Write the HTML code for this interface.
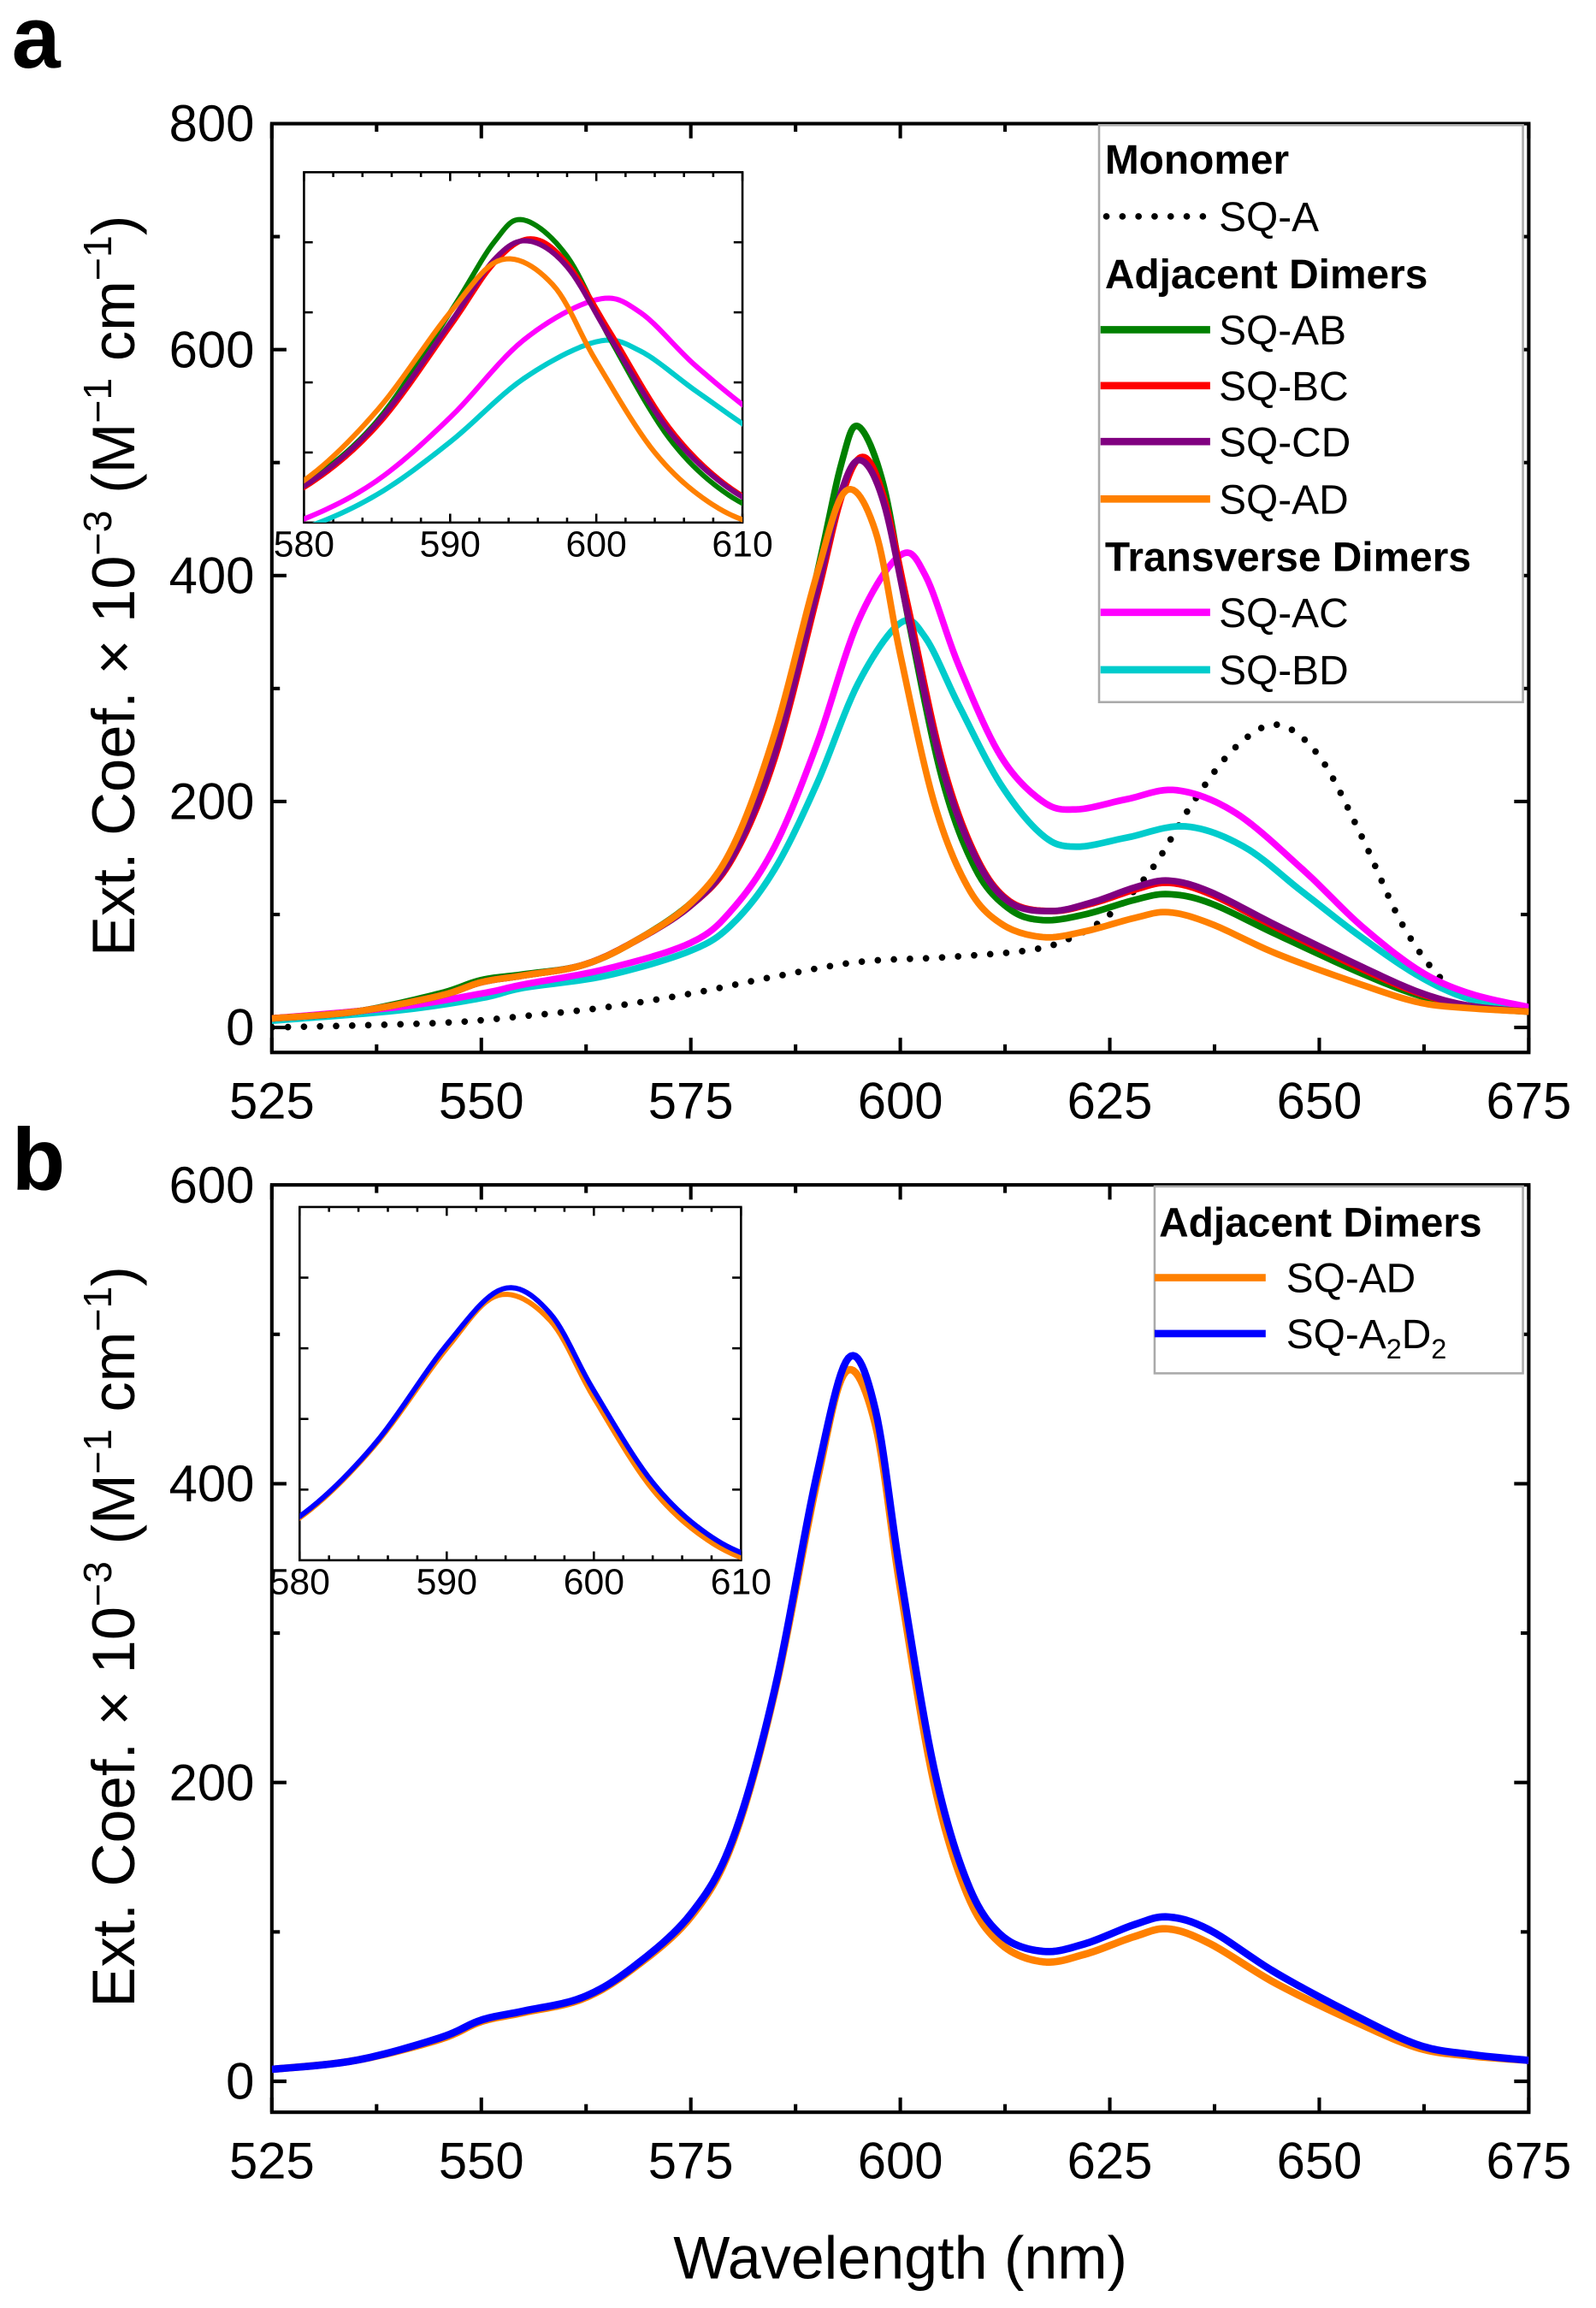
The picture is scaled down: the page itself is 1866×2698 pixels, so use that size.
<!DOCTYPE html>
<html><head><meta charset="utf-8">
<style>html,body{margin:0;padding:0;background:#fff}svg{display:block}
text{font-family:"Liberation Sans",Arial,sans-serif}</style></head>
<body>
<svg id="s" width="1866" height="2698" viewBox="0 0 1092 1568" preserveAspectRatio="none" xmlns="http://www.w3.org/2000/svg">
<defs>
<clipPath id="ca"><rect x="186" y="84" width="860" height="631"/></clipPath>
<clipPath id="cb"><rect x="186" y="805" width="860" height="630"/></clipPath>
<clipPath id="cia"><rect x="208" y="117" width="300" height="238"/></clipPath>
<clipPath id="cib"><rect x="205" y="820" width="302" height="240"/></clipPath>
</defs>
<g id="g"></g>
<text x="8" y="46" font-size="60" font-weight="bold">a</text>
<text x="8" y="808" font-size="60" font-weight="bold">b</text>
<text transform="translate(92,398) rotate(-90)" font-size="41" text-anchor="middle">Ext. Coef. × 10<tspan dy="-16" font-size="27">−3</tspan><tspan dy="16"> (M</tspan><tspan dy="-16" font-size="27">−1</tspan><tspan dy="16"> cm</tspan><tspan dy="-16" font-size="27">−1</tspan><tspan dy="16">)</tspan></text>
<text transform="translate(92,1112) rotate(-90)" font-size="41" text-anchor="middle">Ext. Coef. × 10<tspan dy="-16" font-size="27">−3</tspan><tspan dy="16"> (M</tspan><tspan dy="-16" font-size="27">−1</tspan><tspan dy="16"> cm</tspan><tspan dy="-16" font-size="27">−1</tspan><tspan dy="16">)</tspan></text>
<text x="616" y="1548" font-size="41" text-anchor="middle">Wavelength (nm)</text>
</svg>
<script>
var NS="http://www.w3.org/2000/svg",G=document.getElementById('g');
function el(t,a,p){var e=document.createElementNS(NS,t);for(var k in a)e.setAttribute(k,a[k]);(p||G).appendChild(e);return e;}
function txt(x,y,s,sz,anc,bold){var e=el('text',{x:x,y:y,'font-size':sz,'text-anchor':anc||'start'});if(bold)e.setAttribute('font-weight','bold');e.textContent=s;return e;}
function spline(pts,N){var out=[];for(var i=0;i<pts.length-1;i++){var p0=pts[Math.max(0,i-1)],p1=pts[i],p2=pts[i+1],p3=pts[Math.min(pts.length-1,i+2)];
for(var t=0;t<1;t+=1/N){var t2=t*t,t3=t2*t;
var x=0.5*((2*p1[0])+(-p0[0]+p2[0])*t+(2*p0[0]-5*p1[0]+4*p2[0]-p3[0])*t2+(-p0[0]+3*p1[0]-3*p2[0]+p3[0])*t3);
var y=0.5*((2*p1[1])+(-p0[1]+p2[1])*t+(2*p0[1]-5*p1[1]+4*p2[1]-p3[1])*t2+(-p0[1]+3*p1[1]-3*p2[1]+p3[1])*t3);out.push([x,y]);}}
out.push(pts[pts.length-1]);return out;}
function P(a){var r=[];for(var i=0;i<a.length;i+=2)r.push([a[i],a[i+1]]);return r;}
var D={
orange:P([525,8,535,14,545,28,550,40,555,46,562,55,568,75,575,110,580,160,585,260,590,400,593.5,475,597,440,600,330,604,200,608,125,612,92,617,80,622,85,628,97,632,102,637,92,645,65,655,38,662,22,668,17,675,14]),
green:P([525,8,535,14,545,30,550,42,555,47,562,55,568,75,575,110,580,155,585,245,590,400,593,500,595,532,598,480,601,360,605,220,609,140,613,105,617,95,622,100,628,113,632,118,637,110,645,82,655,48,662,28,668,18,675,14]),
red:P([525,8,535,14,545,28,550,40,555,46,562,55,568,75,575,108,580,150,585,238,590,380,593,470,595.5,505,598,470,601,370,605,235,609,152,613,112,618,103,623,110,628,122,632,128,637,118,645,88,655,52,662,30,668,19,675,14]),
purple:P([525,8,535,14,545,28,550,40,555,46,562,55,568,75,575,108,580,152,585,242,590,385,593,475,595.3,502,598,465,601,362,605,230,609,150,613,111,618,103,623,111,628,124,632,130,637,120,645,90,655,54,662,31,668,19,675,14]),
magenta:P([525,8,540,18,550,30,555,38,565,52,575,75,580,105,585,160,590,250,595,360,600,418,603,400,607,320,612,240,617,200,621,193,627,202,633,210,640,190,648,140,655,90,662,50,668,30,675,18]),
cyan:P([525,6,540,15,550,26,555,35,565,46,575,68,580,92,585,140,590,215,595,305,600,358,603,345,607,285,612,215,617,170,621,160,627,168,634,178,641,160,648,120,655,80,662,45,668,25,675,15]),
dot:P([525,0,545,4,555,10,565,18,575,30,585,45,595,58,605,62,615,68,620,78,625,100,630,140,635,200,640,248,645,268,650,240,655,170,660,90,665,40,670,20,675,15]),
blue:P([525,8,535,14,545,29,550,41,555,47,562,56,568,76,575,112,580,162,585,262,590,405,593.8,484,597,450,600,340,604,210,608,133,612,98,617,87,622,92,628,105,632,110,637,101,645,72,655,42,662,24,668,18,675,14])};
function curve(pts,X,Y,col,w,clip,dash){var s=spline(pts,12),d='';s.forEach(function(p,i){d+=(i?'L':'M')+X(p[0]).toFixed(2)+','+Y(p[1]).toFixed(2);});
var a={d:d,fill:'none',stroke:col,'stroke-width':w,'stroke-linejoin':'round','clip-path':'url(#'+clip+')'};
if(dash){a['stroke-dasharray']='0 11';a['stroke-linecap']='round';}el('path',a);}
function axes(x0,x1,y0,y1,xmin,xmax,xstep,xminor,ymin,ymax,ystep,yminor,sz,lw,tl,labY,hideY){
el('rect',{x:x0,y:y0,width:x1-x0,height:y1-y0,fill:'none',stroke:'#000','stroke-width':lw});
var X=function(v){return x0+(v-xmin)/(xmax-xmin)*(x1-x0);},Y=function(v){return y1-(v-ymin)/(ymax-ymin)*(y1-y0);};
for(var v=xmin;v<=xmax+1e-6;v+=xminor){var maj=Math.abs(v/xstep-Math.round(v/xstep))<1e-6,L=maj?tl:tl*0.55,x=X(v);
el('line',{x1:x,y1:y1,x2:x,y2:y1-L,stroke:'#000','stroke-width':lw});el('line',{x1:x,y1:y0,x2:x,y2:y0+L,stroke:'#000','stroke-width':lw});
if(maj)txt(x,y1+labY,String(Math.round(v)),sz,'middle');}
var vs=Math.ceil(ymin/yminor-1e-9)*yminor;
for(var v=vs;v<=ymax+1e-6;v+=yminor){var maj=Math.abs(v/ystep-Math.round(v/ystep))<1e-6,L=maj?tl:tl*0.55,y=Y(v);
if(v>ymin+1e-6&&v<ymax-1e-6){el('line',{x1:x0,y1:y,x2:x0+L,y2:y,stroke:'#000','stroke-width':lw});el('line',{x1:x1,y1:y,x2:x1-L,y2:y,stroke:'#000','stroke-width':lw});}
if(maj&&!hideY)txt(x0-12,y+12,String(Math.round(v)),sz,'end');}
return [X,Y];}
var colA={green:'#008000',red:'#ff0000',purple:'#800080',orange:'#ff8000',magenta:'#ff00ff',cyan:'#00cccc'};
var A=axes(186,1046,84,715,525,675,25,12.5,-22.1,800,200,100,35,2.4,10,45);
curve(D.dot,A[0],A[1],'#000',4.5,'ca',true);
['cyan','magenta','green','red','purple','orange'].forEach(function(k){curve(D[k],A[0],A[1],colA[k],4.5,'ca');});
el('rect',{x:208,y:117,width:300,height:238,fill:'#fff'});
var IA=axes(208,508,117,355,580,610,10,2,100,600,100,100,25,1.5,6,23,true);
['cyan','magenta','green','red','purple','orange'].forEach(function(k){curve(D[k],IA[0],IA[1],colA[k],3.5,'cia');});
el('rect',{x:752,y:85,width:290,height:392,fill:'#fff',stroke:'#aaa','stroke-width':1.5});
txt(756,118,'Monomer',28,'start',true);
el('line',{x1:757,y1:147,x2:826,y2:147,stroke:'#000','stroke-width':4.5,'stroke-dasharray':'0 11','stroke-linecap':'round'});
txt(834,157,'SQ-A',28);
txt(756,196,'Adjacent Dimers',28,'start',true);
[['green','SQ-AB',224],['red','SQ-BC',262],['purple','SQ-CD',300],['orange','SQ-AD',339]].forEach(function(r){el('line',{x1:753,y1:r[2],x2:828,y2:r[2],stroke:colA[r[0]],'stroke-width':5});txt(834,r[2]+10,r[1],28);});
txt(756,388,'Transverse Dimers',28,'start',true);
[['magenta','SQ-AC',416],['cyan','SQ-BD',455]].forEach(function(r){el('line',{x1:753,y1:r[2],x2:828,y2:r[2],stroke:colA[r[0]],'stroke-width':5});txt(834,r[2]+10,r[1],28);});
var B=axes(186,1046,805,1435,525,675,25,12.5,-20.7,600,200,100,35,2.4,10,45);
curve(D.orange,B[0],B[1],'#ff8000',5,'cb');
curve(D.blue,B[0],B[1],'#0000ff',5,'cb');
el('rect',{x:205,y:820,width:302,height:240,fill:'#fff'});
var IB=axes(205,507,820,1060,580,610,10,2,100,600,100,100,25,1.5,6,23,true);
curve(D.orange,IB[0],IB[1],'#ff8000',3.5,'cib');curve(D.blue,IB[0],IB[1],'#0000ff',3.5,'cib');
el('rect',{x:790,y:806,width:252,height:127,fill:'#fff',stroke:'#aaa','stroke-width':1.5});
txt(793,840,'Adjacent Dimers',28,'start',true);
el('line',{x1:790,y1:868,x2:866,y2:868,stroke:'#ff8000','stroke-width':5});txt(880,878,'SQ-AD',28);
el('line',{x1:790,y1:906,x2:866,y2:906,stroke:'#0000ff','stroke-width':5});
var t=txt(880,916,'SQ-A',28);var s1=el('tspan',{dy:7,'font-size':19},t);s1.textContent='2';var s2=el('tspan',{dy:-7},t);s2.textContent='D';var s3=el('tspan',{dy:7,'font-size':19},t);s3.textContent='2';
</script>
</body></html>
